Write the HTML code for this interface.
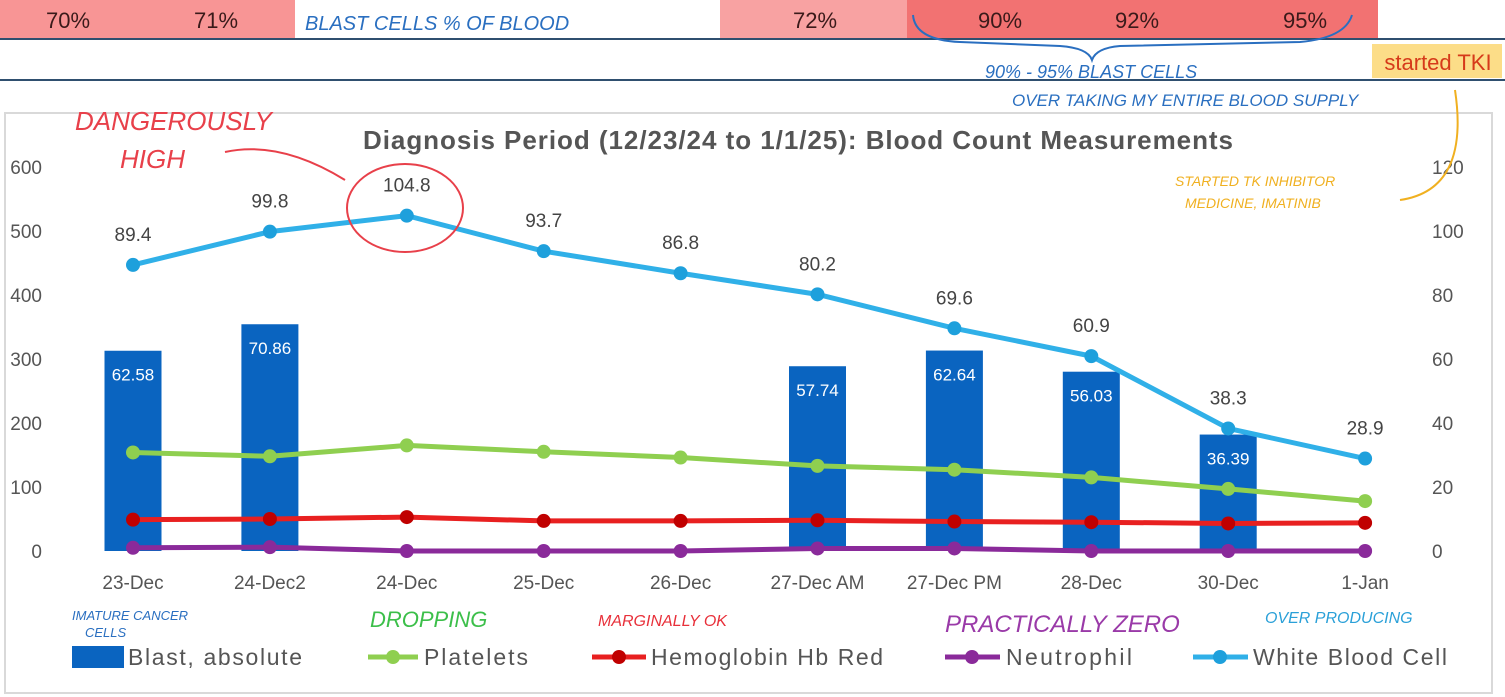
<!DOCTYPE html>
<html><head><meta charset="utf-8"><style>
body{margin:0;background:#fff;font-family:"Liberation Sans",sans-serif}
svg{display:block}
.hw{font-family:"Liberation Sans",sans-serif;font-style:italic}
</style></head><body>
<svg id="s" width="1505" height="697" xmlns="http://www.w3.org/2000/svg">
<g>
<rect x="0" y="0" width="295" height="38" fill="#f89595"/>
<rect x="720" y="0" width="187" height="38" fill="#f8a2a2"/>
<rect x="907" y="0" width="471" height="38" fill="#f27272"/>
<line x1="0" y1="39" x2="1505" y2="39" stroke="#2f4f6f" stroke-width="2"/>
<line x1="0" y1="80" x2="1505" y2="80" stroke="#2f4f6f" stroke-width="2"/>
<text x="68" y="28" font-size="22" fill="#3a1a1a" text-anchor="middle">70%</text>
<text x="216" y="28" font-size="22" fill="#3a1a1a" text-anchor="middle">71%</text>
<text x="815" y="28" font-size="22" fill="#3a1a1a" text-anchor="middle">72%</text>
<text x="1000" y="28" font-size="22" fill="#3a1a1a" text-anchor="middle">90%</text>
<text x="1137" y="28" font-size="22" fill="#3a1a1a" text-anchor="middle">92%</text>
<text x="1305" y="28" font-size="22" fill="#3a1a1a" text-anchor="middle">95%</text>
<text class="hw" x="305" y="30" font-size="20" fill="#2a6fc0">BLAST CELLS % OF BLOOD</text>
<path d="M913 15 Q915 40 960 42 L1060 46 Q1088 48 1092 60 Q1096 48 1120 46 L1300 42 Q1345 38 1352 15" fill="none" stroke="#2a6fc0" stroke-width="2"/>
<text class="hw" x="985" y="78" font-size="18" fill="#2a6fc0">90% - 95% BLAST CELLS</text>
<text class="hw" x="1012" y="106" font-size="17" fill="#2a6fc0">OVER TAKING MY ENTIRE BLOOD SUPPLY</text>
<rect x="1372" y="44" width="130" height="34" fill="#fbd46a" opacity="0.8"/>
<text x="1438" y="70" font-size="22" fill="#d63a1a" text-anchor="middle">started TKI</text>
</g>
<rect x="5" y="113" width="1487" height="580" fill="#fff" stroke="#d9d9d9" stroke-width="2"/>
<text x="798" y="149" font-size="26" font-weight="bold" fill="#555" text-anchor="middle" textLength="870">Diagnosis Period (12/23/24 to 1/1/25): Blood Count Measurements</text>
<g id="plot"></g>
<g>
<text class="hw" x="75" y="130" font-size="26" fill="#e8404a">DANGEROUSLY</text>
<text class="hw" x="120" y="168" font-size="26" fill="#e8404a">HIGH</text>
<path d="M225 152 Q280 140 345 180" fill="none" stroke="#e8404a" stroke-width="2"/>
<ellipse cx="405" cy="208" rx="58" ry="44" fill="none" stroke="#e8404a" stroke-width="2"/>
<text class="hw" x="1175" y="186" font-size="14" fill="#f0b020">STARTED TK INHIBITOR</text>
<text class="hw" x="1185" y="208" font-size="14" fill="#f0b020">MEDICINE, IMATINIB</text>
<path d="M1400 200 Q1470 190 1455 90" fill="none" stroke="#f0b020" stroke-width="2"/>
<text class="hw" x="72" y="620" font-size="13" fill="#2a6fc0">IMATURE CANCER</text>
<text class="hw" x="85" y="637" font-size="13" fill="#2a6fc0">CELLS</text>
<text class="hw" x="370" y="627" font-size="22" fill="#3cbf4a">DROPPING</text>
<text class="hw" x="598" y="626" font-size="16" fill="#e8303a">MARGINALLY OK</text>
<text class="hw" x="945" y="632" font-size="24" fill="#9a3aa8">PRACTICALLY ZERO</text>
<text class="hw" x="1265" y="623" font-size="16" fill="#2aa0d8">OVER PRODUCING</text>
</g>
<g>
<rect x="72" y="646" width="52" height="22" fill="#0a64c0"/>
<text x="128" y="665" font-size="23" fill="#555" textLength="174">Blast, absolute</text>
<g><line x1="368" y1="657" x2="418" y2="657" stroke="#8fcf50" stroke-width="5"/><circle cx="393" cy="657" r="7" fill="#8fcf50"/></g>
<text x="424" y="665" font-size="23" fill="#555" textLength="104">Platelets</text>
<g><line x1="592" y1="657" x2="646" y2="657" stroke="#e82020" stroke-width="5"/><circle cx="619" cy="657" r="7" fill="#c00000"/></g>
<text x="651" y="665" font-size="23" fill="#555" textLength="232">Hemoglobin Hb Red</text>
<g><line x1="945" y1="657" x2="1000" y2="657" stroke="#8a2a9a" stroke-width="5"/><circle cx="972" cy="657" r="7" fill="#8a2a9a"/></g>
<text x="1006" y="665" font-size="23" fill="#555" textLength="126">Neutrophil</text>
<g><line x1="1193" y1="657" x2="1248" y2="657" stroke="#30b0e8" stroke-width="5"/><circle cx="1220" cy="657" r="7" fill="#1ea0dc"/></g>
<text x="1253" y="665" font-size="23" fill="#555" textLength="194">White Blood Cell</text>
</g>
</svg>
<script>
const categories=["23-Dec","24-Dec2","24-Dec","25-Dec","26-Dec","27-Dec AM","27-Dec PM","28-Dec","30-Dec","1-Jan"];
const blast=[62.58,70.86,null,null,null,57.74,62.64,56.03,36.39,null];
const wbc=[89.4,99.8,104.8,93.7,86.8,80.2,69.6,60.9,38.3,28.9];
const platelets=[154,148,165,155,146,133,127,115,97,78];
const hemoglobin=[49,50,53,47,47,48,46,45,43,44];
const neutrophil=[5,6,0,0,0,4,4,0,0,0];
const leftTicks=[0,100,200,300,400,500,600];
const rightTicks=[0,20,40,60,80,100,120];
const NS="http://www.w3.org/2000/svg";
const g=document.getElementById("plot");
const x0=133,dx=136.9,yb=551;
const xs=i=>x0+i*dx;
const yL=v=>yb-v*384/600;
const yR=v=>yb-v*384/120;
function mk(t,a,txt){const e=document.createElementNS(NS,t);for(const k in a)e.setAttribute(k,a[k]);if(txt!=null)e.textContent=txt;g.appendChild(e);return e;}
leftTicks.forEach(v=>{const e=mk("text",{x:42,y:yL(v)+7,"font-size":19,fill:"#555","text-anchor":"end"},v);

});
rightTicks.forEach(v=>{const e=mk("text",{x:1432,y:yR(v)+7,"font-size":19,fill:"#555"},v);

});
categories.forEach((c,i)=>{const e=mk("text",{x:xs(i),y:589,"font-size":19,fill:"#555","text-anchor":"middle"},c);

});
blast.forEach((v,i)=>{if(v==null)return;const r=mk("rect",{x:xs(i)-28.5,y:yR(v),width:57,height:yb-yR(v),fill:"#0a64c0"});


const t=mk("text",{x:xs(i),y:yR(v)+30,"font-size":17,fill:"#fff","text-anchor":"middle"},v.toFixed(2));

});
function series(arr,yf,color,dot,name){
const p=mk("polyline",{points:arr.map((v,i)=>xs(i)+","+yf(v)).join(" "),fill:"none",stroke:color,"stroke-width":5,"stroke-linejoin":"round"});


arr.forEach((v,i)=>{const c=mk("circle",{cx:xs(i),cy:yf(v),r:7,fill:dot});

});}
series(neutrophil,yL,"#8a2a9a","#8a2a9a","neutrophil");
series(hemoglobin,yL,"#e82020","#c00000","hemoglobin");
series(platelets,yL,"#8fcf50","#8fcf50","platelets");
series(wbc,yR,"#30b0e8","#1ea0dc","wbc");
wbc.forEach((v,i)=>{const t=mk("text",{x:xs(i),y:yR(v)-24,"font-size":19,fill:"#444","text-anchor":"middle"},v.toFixed(1));

});
</script>
</body></html>
